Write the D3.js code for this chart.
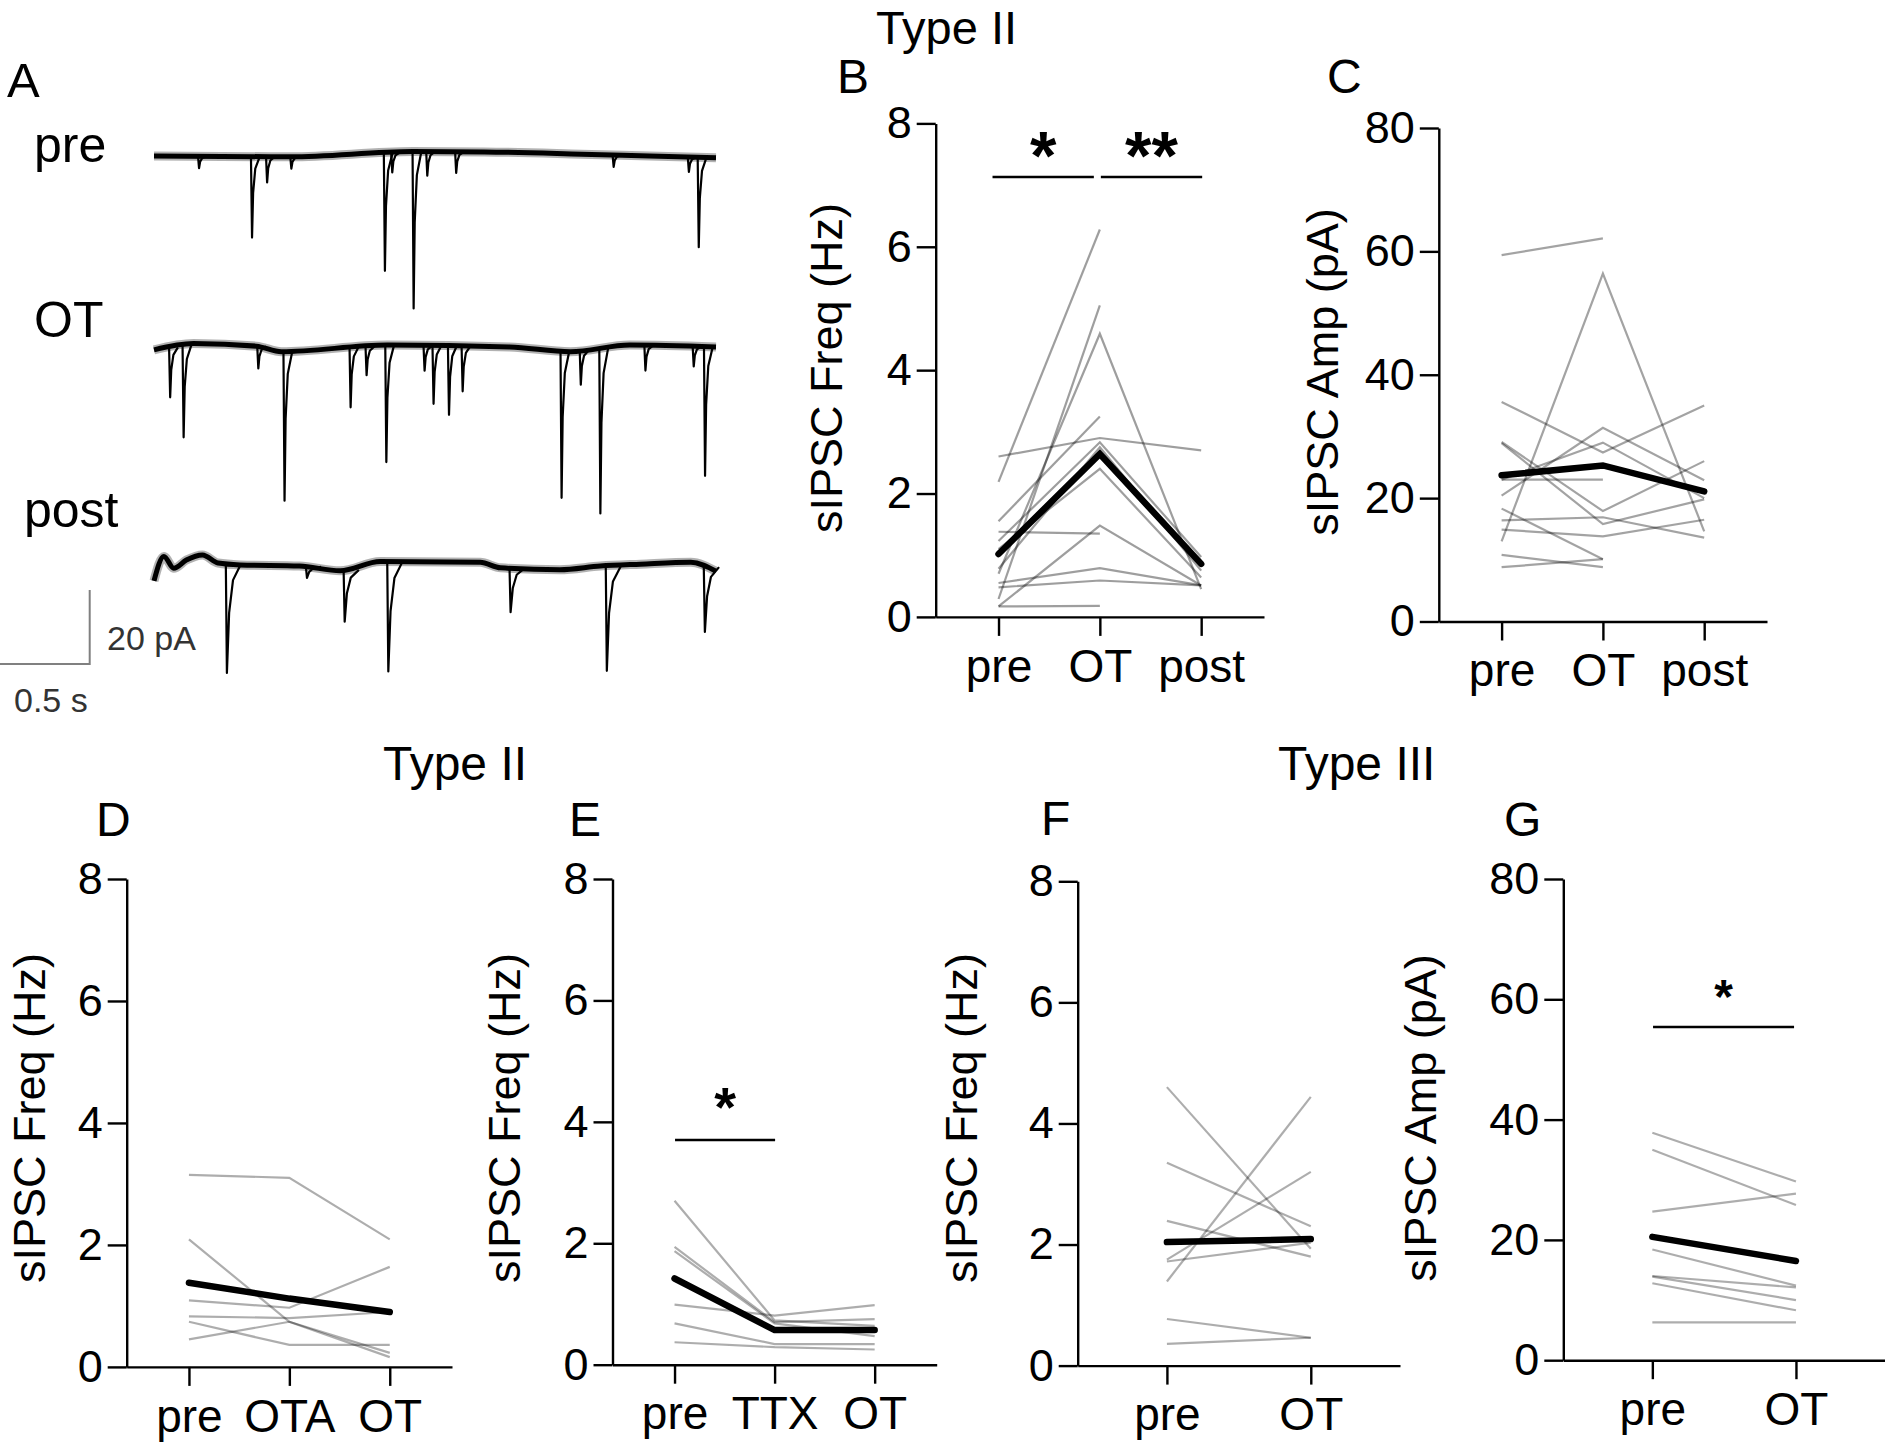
<!DOCTYPE html>
<html><head><meta charset="utf-8">
<script src="https://cdn.jsdelivr.net/npm/d3@7"></script>
<style>
html,body{margin:0;padding:0;background:#fff;}
svg{display:block;}
</style></head><body>
<svg id="fig" width="1885" height="1443"></svg>
<script>
// ================= DATA =================
const freqTicks = [0, 2, 4, 6, 8];
const ampTicks = [0, 20, 40, 60, 80];

// Panel B: Type II sIPSC frequency (Hz), one entry per cell
const catsB = ["pre", "OT", "post"];
const bPre  = [2.60, 2.19, 0.29, 0.70, 1.55, 1.38, 0.17, 0.17, 0.55, 0.48, 1.23, 0.78, 1.10];
const bOT   = [2.90, 6.28, 5.05, 4.59, 3.25, 1.35, 0.18, 1.48, 0.79, 0.59, 2.83, 2.75, 2.40];
const bPost = [2.70, null, null, 0.45, null, null, null, 0.51, 0.51, 0.51, 0.97, 0.75, 0.64];
const bMean = [1.02, 2.64, 0.86];
const sigB = [{from: "pre", to: "OT", y: 7.13, label: "*"}, {from: "OT", to: "post", y: 7.13, label: "**"}];

// Panel C: Type II sIPSC amplitude (pA)
const catsC = ["pre", "OT", "post"];
const cPre  = [59.4, 13.0, 35.6, 29.1, 28.9, 20.4, 23.0, 23.0, 18.3, 16.4, 14.9, 10.8, 8.8];
const cOT   = [62.1, 56.4, 27.4, 17.9, 15.8, 31.4, 29.0, 23.0, 10.1, 16.9, 13.8, 8.8, 10.1];
const cPost = [null, 14.6, 35.0, 26.0, 19.8, 22.9, 20.0, null, null, 13.6, 16.5, null, null];
const cMean = [23.7, 25.3, 21.1];

// Panel D: Type II, pre / OTA / OT frequency (Hz)
const catsD = ["pre", "OTA", "OT"];
const dPre = [3.15, 2.09, 1.09, 0.83, 0.74, 0.45];
const dOTA = [3.10, 0.74, 0.97, 0.80, 0.36, 0.74];
const dOT  = [2.09, 0.16, 1.64, 0.90, 0.36, 0.23];
const dMean = [1.38, 1.12, 0.90];

// Panel E: Type II, pre / TTX / OT frequency (Hz)
const catsE = ["pre", "TTX", "OT"];
const ePre = [2.70, 1.94, 1.87, 0.99, 0.68, 0.37];
const eTTX = [0.73, 0.70, 0.68, 0.81, 0.34, 0.29];
const eOT  = [0.64, 0.75, 0.47, 0.98, 0.34, 0.25];
const eMean = [1.42, 0.57, 0.57];
const sigE = [{from: "pre", to: "TTX", y: 3.70, label: "*"}];

// Panel F: Type III frequency (Hz)
const catsF = ["pre", "OT"];
const fPre = [4.60, 1.39, 3.35, 2.39, 1.75, 1.72, 0.77, 0.36];
const fOT  = [1.93, 4.44, 2.30, 1.80, 3.20, 2.03, 0.46, 0.46];
const fMean = [2.04, 2.09];

// Panel G: Type III amplitude (pA)
const catsG = ["pre", "OT"];
const gPre = [37.8, 35.0, 24.7, 18.4, 14.0, 13.9, 12.8, 6.3];
const gOT  = [29.7, 25.8, 27.7, 12.4, 12.1, 10.0, 8.3, 6.3];
const gMean = [20.5, 16.5];
const sigG = [{from: "pre", to: "OT", y: 55.4, label: "*"}];

// Panel A: example traces. events = [time (s), amplitude (pA)]; baseline = [time (s), offset (pA)]
const traceDuration = 3.13;
const preEvents  = [[0.249, 3.2], [0.544, 21.9], [0.628, 7.0], [0.763, 3.2], [1.284, 31.9], [1.325, 5.4], [1.444, 42.4], [1.520, 6.5], [1.681, 5.7], [2.558, 3.2], [2.977, 4.0], [3.032, 24.3]];
const preBase    = [[0, 0], [0.76, -0.2], [1.44, 1.2], [1.84, 1.1], [2.38, 0.5], [2.76, 0], [3.13, -0.5]];
const otEvents   = [[0.088, 13.5], [0.163, 24.9], [0.579, 5.9], [0.725, 40.3], [1.093, 16.2], [1.182, 7.8], [1.292, 31.6], [1.505, 6.8], [1.555, 15.7], [1.641, 18.6], [1.717, 12.2], [2.268, 39.7], [2.375, 9.2], [2.484, 44.6], [2.735, 6.8], [3.004, 5.4], [3.067, 34.9]];
const otBase     = [[0, -0.5], [0.22, 1.2], [0.57, 0.5], [0.71, -1.0], [1.30, 0.8], [1.98, 0.3], [2.32, -1.0], [2.65, 0.8], [3.13, 0.3]];
const postEvents = [[0.404, 29.5], [0.85, 3.0], [1.060, 14.0], [1.303, 29.7], [1.984, 11.9], [2.520, 28.4], [3.066, 17.5]];
const postBase   = [[0, -4.0], [0.055, 2.6], [0.11, -0.6], [0.18, 1.6], [0.27, 3.0], [0.357, 0.8], [0.479, 0.3], [0.81, 0], [1.037, -1.3], [1.26, 1.2], [1.817, 1.0], [1.93, -0.5], [2.26, -1.0], [2.486, 0], [2.709, 0.5], [2.99, 1.0], [3.13, -1.4]];
const scaleBarTime = 0.5, scaleBarAmp = 20;

// ================= DRAWING =================
const FONT = "'Liberation Sans', Arial, Helvetica, sans-serif";
const svg = d3.select("#fig");
svg.append("rect").attr("width", 1885).attr("height", 1443).attr("fill", "#fff");

function txt(x, y, s, size, opts = {}) {
  return svg.append("text").attr("x", x).attr("y", y).attr("font-family", FONT)
    .attr("font-size", size).attr("fill", opts.fill || "#000")
    .attr("font-weight", opts.weight || "normal")
    .attr("text-anchor", opts.anchor || "start").text(s);
}

const panels = [
  {cats: catsB, series: [bPre, bOT, bPost], mean: bMean, ticks: freqTicks, domain: [0, 8],
   axisX: 935.7, right: 1264, y0: 616.9, yTop: 123.4, ylabel: "sIPSC Freq (Hz)", ylabX: 842, ylabY: 368,
   letter: ["B", 837, 93], sig: sigB, sigOff: [[-6, -6], [1, 1]], starSize: 68, starGap: -2, gray: "rgba(0,0,0,0.38)"},
  {cats: catsC, series: [cPre, cOT, cPost], mean: cMean, ticks: ampTicks, domain: [0, 80],
   axisX: 1438.8, right: 1767, y0: 621.5, yTop: 128, ylabel: "sIPSC Amp (pA)", ylabX: 1338, ylabY: 372,
   letter: ["C", 1327, 93], sig: [], gray: "rgba(0,0,0,0.36)"},
  {cats: catsD, series: [dPre, dOTA, dOT], mean: dMean, ticks: freqTicks, domain: [0, 8],
   axisX: 126.7, right: 452, y0: 1366.9, yTop: 879, ylabel: "sIPSC Freq (Hz)", ylabX: 45, ylabY: 1118,
   letter: ["D", 96, 836], sig: [], gray: "rgba(0,0,0,0.32)"},
  {cats: catsE, series: [ePre, eTTX, eOT], mean: eMean, ticks: freqTicks, domain: [0, 8],
   axisX: 612.5, right: 936.7, y0: 1364.7, yTop: 879, ylabel: "sIPSC Freq (Hz)", ylabX: 520, ylabY: 1118,
   letter: ["E", 569, 836], sig: sigE, sigOff: [[0.5, 0.5]], starSize: 56, starGap: 14, gray: "rgba(0,0,0,0.32)"},
  {cats: catsF, series: [fPre, fOT], mean: fMean, ticks: freqTicks, domain: [0, 8],
   axisX: 1077.7, right: 1400, y0: 1365.6, yTop: 881.3, ylabel: "sIPSC Freq (Hz)", ylabX: 977, ylabY: 1118,
   letter: ["F", 1041, 835], sig: [], gray: "rgba(0,0,0,0.32)"},
  {cats: catsG, series: [gPre, gOT], mean: gMean, ticks: ampTicks, domain: [0, 80],
   axisX: 1563.3, right: 1885, y0: 1360.2, yTop: 879, ylabel: "sIPSC Amp (pA)", ylabX: 1436, ylabY: 1118,
   letter: ["G", 1504, 836], sig: sigG, sigOff: [[0.7, -1.9]], starSize: 48, starGap: 14, gray: "rgba(0,0,0,0.32)"}
];

function drawPanel(p) {
  const x = d3.scalePoint().domain(p.cats).range([p.axisX, p.right]).padding(0.62);
  const y = d3.scaleLinear().domain(p.domain).range([p.y0, p.yTop]);
  const g = svg.append("g");
  const ya = g.append("g").attr("transform", `translate(${p.axisX},0)`)
    .call(d3.axisLeft(y).tickValues(p.ticks).tickSize(19).tickPadding(5).tickSizeOuter(0));
  const xa = g.append("g").attr("transform", `translate(0,${p.y0})`)
    .call(d3.axisBottom(x).tickSize(19).tickPadding(13).tickSizeOuter(0));
  [ya, xa].forEach(a => {
    a.attr("font-family", FONT);
    a.selectAll("path,line").attr("stroke", "#000").attr("stroke-width", 2.4);
    a.selectAll("text").attr("fill", "#000");
  });
  ya.attr("font-size", 45);
  xa.attr("font-size", 46);

  const line = d3.line().defined(d => d.v != null).x(d => x(d.c)).y(d => y(d.v));
  const n = p.series[0].length;
  for (let i = 0; i < n; i++) {
    const pts = p.cats.map((c, j) => ({c, v: p.series[j][i]}));
    g.append("path").attr("d", line(pts)).attr("fill", "none")
      .attr("stroke", p.gray).attr("stroke-width", 2.2);
  }
  g.append("path").attr("d", line(p.cats.map((c, j) => ({c, v: p.mean[j]}))))
    .attr("fill", "none").attr("stroke", "#000").attr("stroke-width", 6.5)
    .attr("stroke-linecap", "round").attr("stroke-linejoin", "miter");

  p.sig.forEach((s, k) => {
    const x1 = x(s.from) + p.sigOff[k][0], x2 = x(s.to) + p.sigOff[k][1], yy = y(s.y);
    g.append("line").attr("x1", x1).attr("x2", x2).attr("y1", yy).attr("y2", yy)
      .attr("stroke", "#000").attr("stroke-width", 2.6);
    g.append("text").attr("x", (x1 + x2) / 2).attr("y", yy - p.starGap)
      .attr("text-anchor", "middle").attr("font-family", FONT).attr("font-weight", "bold")
      .attr("font-size", p.starSize).text(s.label);
  });

  g.append("text").attr("transform", `translate(${p.ylabX},${p.ylabY}) rotate(-90)`)
    .attr("text-anchor", "middle").attr("font-family", FONT).attr("font-size", 45).text(p.ylabel);
  txt(p.letter[1], p.letter[2], p.letter[0], 48);
}
panels.forEach(drawPanel);

// titles
txt(876, 44, "Type II", 47);
txt(383, 780, "Type II", 48);
txt(1278, 780, "Type III", 48);

// ---- Panel A traces ----
const tX = d3.scaleLinear().domain([0, traceDuration]).range([154, 716]);
const ampY = base => d3.scaleLinear().domain([0, -scaleBarAmp]).range([base, base + 74]);
const eventShape = [[-0.004, 0], [0.002, 1], [0.008, 0.45], [0.02, 0.15], [0.045, 0]];

function drawTrace(base, baseline, events, tail) {
  const yS = ampY(base);
  const bl = d3.line().x(d => tX(d[0])).y(d => yS(d[1])).curve(d3.curveMonotoneX);
  svg.append("path").attr("d", bl(baseline)).attr("fill", "none").attr("stroke", "#000")
    .attr("stroke-width", 9).attr("stroke-opacity", 0.3).attr("stroke-linejoin", "round");
  svg.append("path").attr("d", bl(baseline)).attr("fill", "none").attr("stroke", "#000")
    .attr("stroke-width", 5).attr("stroke-linejoin", "round");
  const baseAt = t => {
    for (let i = 1; i < baseline.length; i++) {
      if (t <= baseline[i][0]) {
        const a = baseline[i - 1], b = baseline[i];
        return a[1] + (b[1] - a[1]) * (t - a[0]) / (b[0] - a[0]);
      }
    }
    return baseline[baseline.length - 1][1];
  };
  const el = d3.line().x(d => tX(d[0])).y(d => yS(d[1]));
  events.forEach(([t, amp]) => {
    const pts = eventShape.map(([dt, f]) => [t + dt * (dt > 0.002 ? tail : 1), baseAt(t) - amp * f]);
    svg.append("path").attr("d", el(pts)).attr("fill", "none").attr("stroke", "#000")
      .attr("stroke-width", 2.2).attr("stroke-linejoin", "round");
  });
}
drawTrace(156, preBase, preEvents, 1);
drawTrace(348, otBase, otEvents, 1);
drawTrace(566, postBase, postEvents, 1.8);

// scale bar
const sbY = ampY(664), sbX = 89.7;
const sbLen = tX(scaleBarTime) - tX(0);
svg.append("path").attr("d", `M${sbX - sbLen},${sbY(0)}H${sbX}V${sbY(scaleBarAmp)}`)
  .attr("fill", "none").attr("stroke", "#808080").attr("stroke-width", 2);
txt(107, 650, "20 pA", 34, {fill: "#333"});
txt(14, 712, "0.5 s", 34, {fill: "#333"});

txt(7, 97, "A", 49);
txt(34, 162, "pre", 50);
txt(34, 337, "OT", 50);
txt(24, 527, "post", 50);
</script>
</body></html>
